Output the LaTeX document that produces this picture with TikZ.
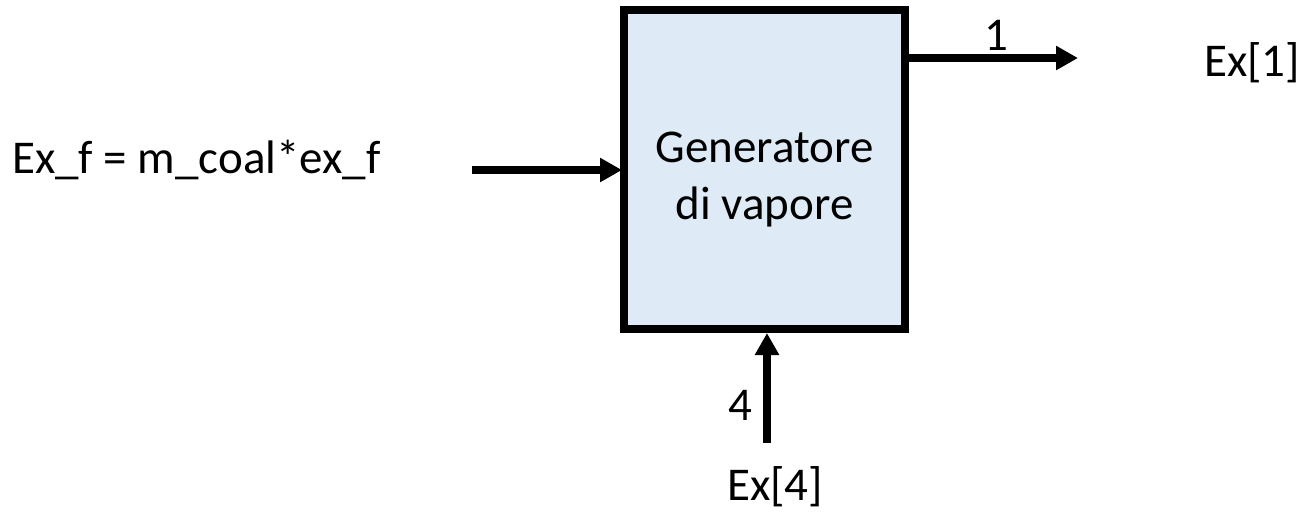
\documentclass[tikz,border=0pt]{standalone}
\usepackage{fontspec}
\setmainfont{Carlito}
\usetikzlibrary{arrows.meta}
\definecolor{boxfill}{HTML}{DEEBF7}
\tikzset{
  lbl/.style={font=\fontsize{47}{57}\selectfont, inner sep=0pt, text=black},
  flow/.style={line width=7.5pt, -{Triangle[length=22pt,width=23pt]}},
  blockbox/.style={draw=black, line width=8pt, fill=boxfill, minimum width=281pt, minimum height=319pt, inner sep=0pt},
}
\begin{document}
\begin{tikzpicture}[x=1pt,y=-1pt]
\useasboundingbox (0,0) rectangle (1301,512);
\node[blockbox] (gen) at (764.5,169.5) {};
\node[lbl, align=center, anchor=base, font=\fontsize{47}{57}\selectfont] (gentext) at (764.5,219) {Generatore\\di vapore};
% inputs/outputs
\coordinate (inF) at (472,170);
\coordinate (inFtip) at (622,170);
\coordinate (out1s) at (909,58);
\coordinate (out1) at (1078,58);
\coordinate (in4) at (767,443);
\coordinate (in4tip) at (767,333);
\draw[flow] (inF) -- (inFtip);
\draw[flow] (out1s) -- (out1);
\draw[flow] (in4) -- (in4tip);
\node[lbl, anchor=base west] (exf) at (12,173) {Ex\_f = m\_coal*ex\_f};
\node[lbl, anchor=base] (one) at (996,50) {1};
\node[lbl, anchor=base west] (ex1) at (1204,76) {Ex[1]};
\node[lbl, anchor=base] (four) at (740,420) {4};
\node[lbl, anchor=base west] (ex4) at (727,500) {Ex[4]};
\end{tikzpicture}
\end{document}
